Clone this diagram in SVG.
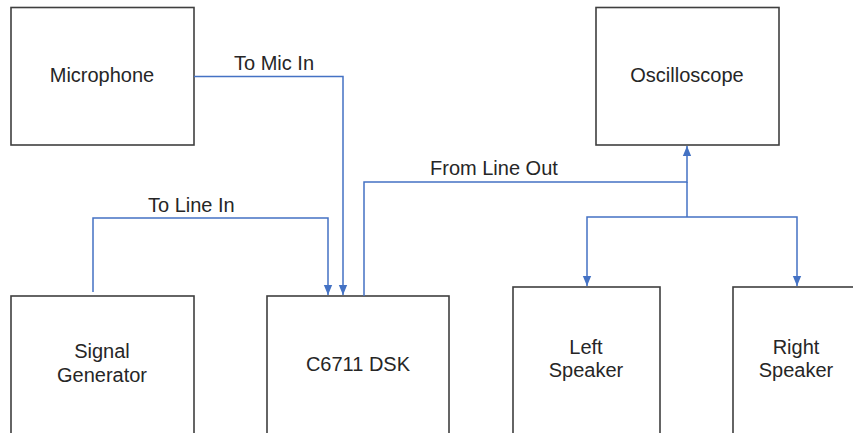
<svg xmlns="http://www.w3.org/2000/svg" width="853" height="433" viewBox="0 0 853 433">
<defs>
<marker id="arr" markerWidth="10" markerHeight="12" refX="12" refY="5" orient="auto" markerUnits="userSpaceOnUse" viewBox="0 0 12 10">
<path d="M0,0 L12,5 L0,10 z" fill="#4472c4"/>
</marker>
<style>
.box{fill:#fff;stroke:#3f3f3f;stroke-width:1.6}
.t{font-family:"Liberation Sans",Arial,sans-serif;font-size:20px;fill:#262626;text-anchor:middle}
.lbl{font-family:"Liberation Sans",Arial,sans-serif;font-size:20px;fill:#262626}
.c{fill:none;stroke:#4472c4;stroke-width:1.5}
</style>
</defs>
<rect width="853" height="433" fill="#fff"/>
<g id="microphone"><rect class="box" x="11" y="7.5" width="183" height="137.5"/><text class="t" x="102" y="82">Microphone</text></g>
<g id="oscilloscope"><rect class="box" x="596" y="7.5" width="183" height="137.5"/><text class="t" x="687" y="82">Oscilloscope</text></g>
<g id="signal-generator"><rect class="box" x="11" y="296" width="183" height="150"/><text class="t" x="102" y="358">Signal</text><text class="t" x="102" y="382">Generator</text></g>
<g id="dsk"><rect class="box" x="267" y="296" width="182" height="150"/><text class="t" x="358" y="371">C6711 DSK</text></g>
<g id="left-speaker"><rect class="box" x="513" y="287" width="147" height="160"/><text class="t" x="586" y="354">Left</text><text class="t" x="586" y="377">Speaker</text></g>
<g id="right-speaker"><rect class="box" x="733" y="287" width="150" height="160"/><text class="t" x="796" y="354">Right</text><text class="t" x="796" y="377">Speaker</text></g>
<g id="connectors">
<path class="c" d="M194,76.5 H343 V295" marker-end="url(#arr)"/>
<path class="c" d="M93,292 V218 H328 V295" marker-end="url(#arr)"/>
<path class="c" d="M364,296 V182 H687 V146" marker-end="url(#arr)"/>
<path class="c" d="M687,182 V217"/>
<path class="c" d="M687,217 H587 V286" marker-end="url(#arr)"/>
<path class="c" d="M687,217 H797 V286" marker-end="url(#arr)"/>
<text class="lbl" x="234" y="70">To Mic In</text>
<text class="lbl" x="148" y="212">To Line In</text>
<text class="lbl" x="430" y="175">From Line Out</text>
</g>
</svg>
